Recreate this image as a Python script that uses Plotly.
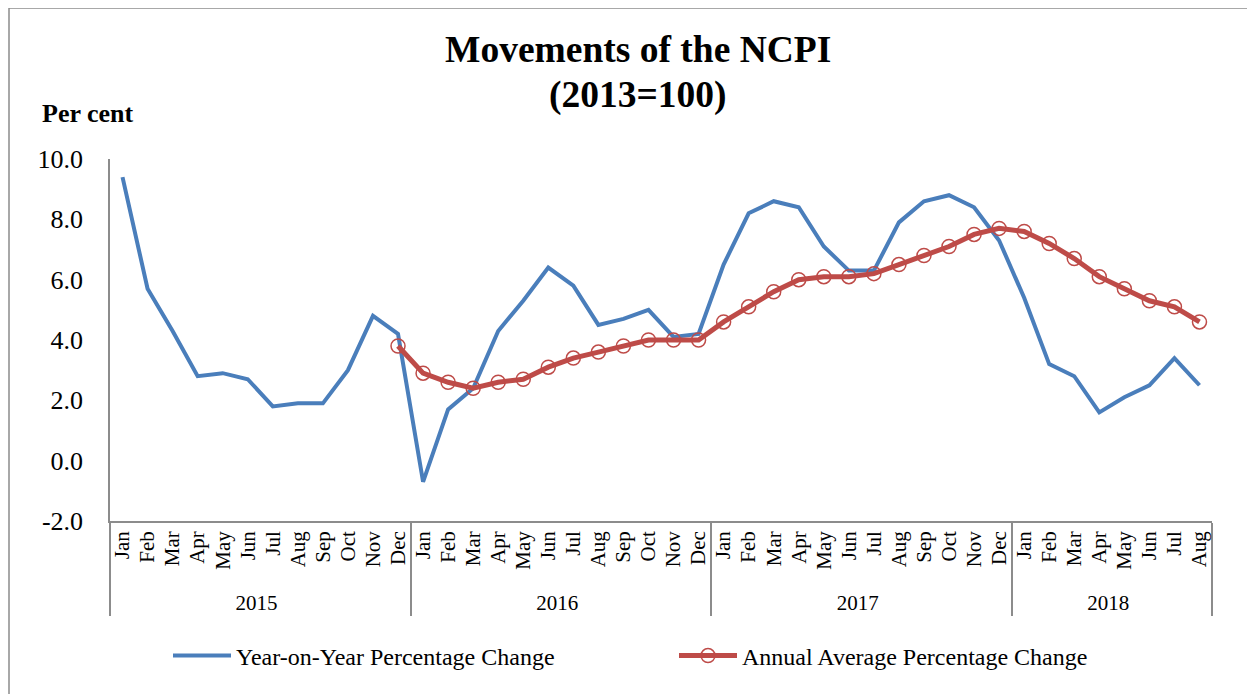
import plotly.graph_objects as go

years = ["2015"] * 12 + ["2016"] * 12 + ["2017"] * 12 + ["2018"] * 8
month_names = ["Jan", "Feb", "Mar", "Apr", "May", "Jun", "Jul", "Aug", "Sep", "Oct", "Nov", "Dec"]
months = month_names * 3 + month_names[:8]

yoy = [9.4, 5.7, 4.3, 2.8, 2.9, 2.7, 1.8, 1.9, 1.9, 3.0, 4.8, 4.2,
       -0.7, 1.7, 2.4, 4.3, 5.3, 6.4, 5.8, 4.5, 4.7, 5.0, 4.1, 4.2,
       6.5, 8.2, 8.6, 8.4, 7.1, 6.3, 6.3, 7.9, 8.6, 8.8, 8.4, 7.3,
       5.4, 3.2, 2.8, 1.6, 2.1, 2.5, 3.4, 2.5]

annual_avg = [None] * 11 + [3.8,
              2.9, 2.6, 2.4, 2.6, 2.7, 3.1, 3.4, 3.6, 3.8, 4.0, 4.0, 4.0,
              4.6, 5.1, 5.6, 6.0, 6.1, 6.1, 6.2, 6.5, 6.8, 7.1, 7.5, 7.7,
              7.6, 7.2, 6.7, 6.1, 5.7, 5.3, 5.1, 4.6]

y_tickvals = [-2, 0, 2, 4, 6, 8, 10]
y_ticktext = ["-2.0", "0.0", "2.0", "4.0", "6.0", "8.0", "10.0"]

SERIF = "Liberation Serif, Times New Roman, serif"

fig = go.Figure()
fig.add_trace(go.Scatter(
    x=[years, months], y=yoy, mode="lines",
    name="Year-on-Year Percentage Change",
    line=dict(color="#4A7EBB", width=4),
))
fig.add_trace(go.Scatter(
    x=[years, months], y=annual_avg, mode="lines+markers",
    name="Annual Average Percentage Change",
    line=dict(color="#BE4B48", width=5),
    marker=dict(symbol="circle-open", size=14, color="#BE4B48", line=dict(width=1.5, color="#BE4B48")),
    connectgaps=False,
))

# plot area in reference-page pixels
PL, PR, PT, PB = 110, 1212, 159, 521
W, H = 1255, 694
OFF = 8  # page body offset
pw, ph = PR - PL, PB - PT
L, T = PL - OFF, PT - OFF
R, B = W - L - pw, H - T - ph

def px_x(x):
    return (x - PL) / pw

def px_y(y):
    return (PB - y) / ph

fig.update_layout(
    width=W, height=H,
    margin=dict(l=L, r=R, t=T, b=B, autoexpand=False),
    paper_bgcolor="white", plot_bgcolor="white",
    font=dict(family=SERIF, color="black"),
    showlegend=True,
    legend=dict(
        orientation="h", x=px_x(168), xanchor="left", y=px_y(656), yanchor="middle",
        font=dict(size=24, family=SERIF, color="black"),
        itemwidth=58, entrywidth=433, entrywidthmode="pixels",
        bgcolor="rgba(0,0,0,0)",
    ),
    xaxis=dict(
        type="multicategory",
        range=[-0.5, len(months) - 0.5], autorange=False,
        dtick=1, tickmode="linear", tick0=0,
        showline=True, linecolor="#8C8C8C", linewidth=1.5,
        tickangle=-90, tickfont=dict(size=21, family=SERIF, color="black"),
        showdividers=True, dividercolor="#8C8C8C", dividerwidth=1.5,
        showgrid=False, zeroline=False, ticks="",
    ),
    yaxis=dict(
        range=[-2, 10], autorange=False,
        tickmode="array", tickvals=y_tickvals, ticktext=y_ticktext,
        showline=True, linecolor="#8C8C8C", linewidth=1.5,
        showgrid=False, zeroline=False,
        ticks="outside", ticklen=20, tickcolor="rgba(0,0,0,0)",
        tickfont=dict(size=26, family=SERIF, color="black"),
    ),
    annotations=[
        dict(text="<b>Movements of the NCPI</b>", xref="paper", yref="paper",
             x=px_x(638), y=px_y(50), xanchor="center", yanchor="middle",
             showarrow=False, font=dict(size=37.5, family=SERIF, color="black")),
        dict(text="<b>(2013=100)</b>", xref="paper", yref="paper",
             x=px_x(638), y=px_y(95), xanchor="center", yanchor="middle",
             showarrow=False, font=dict(size=37.5, family=SERIF, color="black")),
        dict(text="<b>Per cent</b>", xref="paper", yref="paper",
             x=px_x(40), y=px_y(113), xanchor="left", yanchor="middle",
             showarrow=False, font=dict(size=26, family=SERIF, color="black")),
    ],
    shapes=[dict(
        type="rect", xref="paper", yref="paper",
        x0=px_x(9), y0=px_y(720), x1=px_x(1280), y1=px_y(8),
        line=dict(color="#8C8C8C", width=1.5), fillcolor="rgba(0,0,0,0)", layer="below",
    )],
)

fig.write_html("out.html")
